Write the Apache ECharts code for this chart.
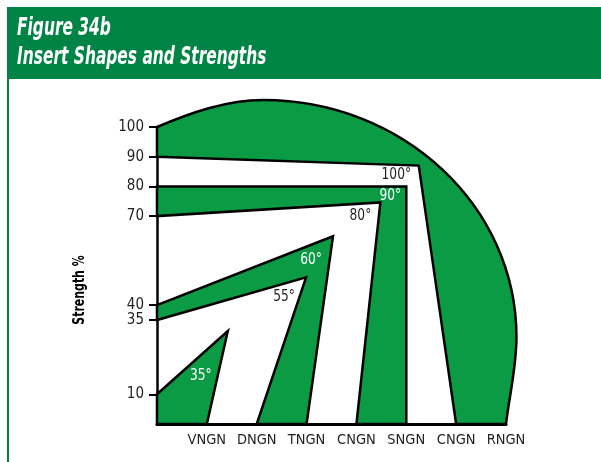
<!DOCTYPE html>
<html>
<head>
<meta charset="utf-8">
<script src="https://cdn.jsdelivr.net/npm/echarts@6/dist/echarts.min.js"></script>
<style>
  html, body { margin: 0; padding: 0; background: #fff; }
  #chart { width: 601px; height: 462px; }
</style>
</head>
<body>
<div id="chart"></div>
<script>
const inserts = ["VNGN", "DNGN", "TNGN", "CNGN", "SNGN", "CNGN", "RNGN"];
const strengthTicks = [10, 35, 40, 70, 80, 90, 100];

// insert outlines as [position on x, strength %]
const vngn35 = [[0, 10], [1.42, 31.3], [1, 0], [0, 0]];
const dtngn5560 = [[0, 40], [3.53, 63.2], [3, 0], [2, 0], [2.99, 49.4], [0, 35]];
const csngn8090 = [[0, 80], [5, 80], [5, 0], [4, 0], [4.48, 74.6], [0, 70]];
const cngn100 = [[0, 90], [5.25, 87], [6, 0], [7, 0]];
// round insert edge, bezier segments from (7,0) back to (0,100): [ctrl1, ctrl2, end]
const rngnArc = [
  [[7.07, 9.8], [7.21, 19.2], [7.21, 29.3]],
  [[7.21, 73.4], [4.93, 109.1], [2.13, 109.1]],
  [[1.39, 109.1], [0.66, 104.7], [0, 100]]
];

const angleNames = ["35°", "55°", "60°", "80°", "90°", "100°"];
const angleAt = [[0.88, 16.2], [2.55, 42.8], [3.09, 55.2], [4.08, 70], [4.68, 76.8], [4.8, 83.8]];

const FONT = '"Liberation Sans Narrow", "DejaVu Sans Condensed", sans-serif';
const GREEN = "#0a9b44";
const HEAD = "#008446";
const onGreen = { "35°": true, "60°": true, "90°": true };

const polys = [vngn35, dtngn5560, csngn8090];

const chart = echarts.init(document.getElementById("chart"));

function renderPoly(params, api) {
  const pts = polys[params.dataIndex].map((p) => api.coord(p));
  return {
    type: "polygon",
    shape: { points: pts },
    style: { fill: GREEN, stroke: "#000", lineWidth: 2.5, lineJoin: "miter" }
  };
}

function renderRound(params, api) {
  const s = (p) => {
    const c = api.coord(p);
    return c[0].toFixed(2) + " " + c[1].toFixed(2);
  };
  let d = "M " + s(cngn100[0]);
  for (let i = 1; i < cngn100.length; i++) d += " L " + s(cngn100[i]);
  rngnArc.forEach((seg) => {
    d += " C " + s(seg[0]) + " " + s(seg[1]) + " " + s(seg[2]);
  });
  d += " Z";
  return {
    type: "path",
    shape: { pathData: d },
    style: { fill: GREEN, stroke: "#000", lineWidth: 2.5, lineJoin: "miter" }
  };
}

function renderAngle(params, api) {
  const i = params.dataIndex;
  const p = api.coord(angleAt[i]);
  return {
    type: "text",
    x: p[0],
    y: p[1],
    scaleX: 0.85,
    style: {
      text: angleNames[i],
      fill: onGreen[angleNames[i]] ? "#fff" : "#231f20",
      fontSize: 16,
      fontFamily: FONT,
      align: "center",
      verticalAlign: "middle"
    }
  };
}

const option = {
  backgroundColor: "#fff",
  animation: false,
  grid: { left: 157, right: 95, top: 127, bottom: 38 },
  xAxis: {
    type: "value",
    min: 0,
    max: 7,
    interval: 1,
    axisLine: { show: true, lineStyle: { color: "#000", width: 3 } },
    axisTick: { show: false },
    splitLine: { show: false },
    axisLabel: {
      customValues: [1, 2, 3, 4, 5, 6, 7],
      formatter: (v) => inserts[Math.round(v) - 1] || "",
      color: "#231f20",
      fontSize: 14.5,
      fontFamily: FONT,
      margin: 9
    }
  },
  yAxis: {
    type: "value",
    min: 0,
    max: 100,
    axisLine: { show: true, lineStyle: { color: "#000", width: 2.5 } },
    axisTick: {
      show: true,
      customValues: strengthTicks,
      length: 8,
      lineStyle: { color: "#000", width: 2 }
    },
    axisLabel: {
      customValues: strengthTicks,
      color: "#231f20",
      fontSize: 15,
      fontFamily: FONT,
      margin: 13
    },
    splitLine: { show: false }
  },
  graphic: [
    { type: "rect", shape: { x: 7, y: 7, width: 594, height: 72 }, style: { fill: HEAD } },
    { type: "rect", shape: { x: 7, y: 79, width: 2, height: 383 }, style: { fill: HEAD } },
    {
      type: "text", x: 17, y: 29, scaleX: 0.715,
      style: { text: "Figure 34b", fill: "#fff", font: "italic bold 24px " + FONT, verticalAlign: "middle" }
    },
    {
      type: "text", x: 17, y: 58, scaleX: 0.715,
      style: { text: "Insert Shapes and Strengths", fill: "#fff", font: "italic bold 24px " + FONT, verticalAlign: "middle" }
    },
    {
      type: "text", x: 80, y: 290, rotation: Math.PI / 2, scaleX: 0.76,
      style: { text: "Strength %", fill: "#000", font: "bold 16px " + FONT, align: "center", verticalAlign: "middle" }
    }
  ],
  series: [
    { type: "custom", renderItem: renderRound, data: [[0, 0]], z: 2 },
    { type: "custom", renderItem: renderPoly, data: polys.map(() => [0, 0]), z: 3 },
    { type: "custom", renderItem: renderAngle, data: angleAt, z: 4 }
  ]
};

chart.setOption(option);
</script>
</body>
</html>
